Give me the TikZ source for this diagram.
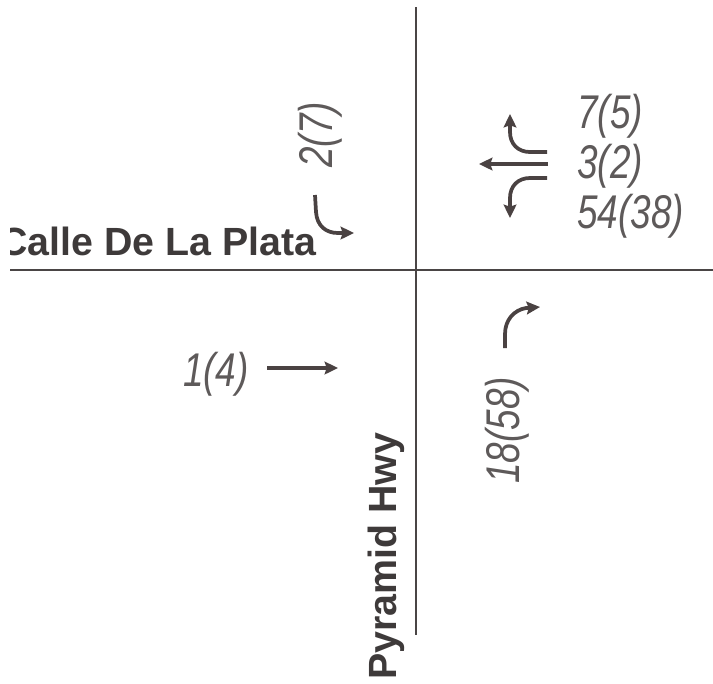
\documentclass[tikz,border=0pt]{standalone}
\usepackage{fontspec}
\setmainfont{Liberation Sans}
\newfontfamily\streetfont[Scale=1]{Liberation Sans}
\newfontfamily\volfont[FakeStretch=0.78]{Liberation Sans}
\usetikzlibrary{arrows.meta}
\definecolor{roadc}{HTML}{4A4545}
\definecolor{arrc}{HTML}{4A4242}
\definecolor{volc}{HTML}{5E5A5A}
\definecolor{namec}{HTML}{3E3A3A}
\tikzset{
  road/.style={draw=roadc, line width=1.6pt},
  mov/.style={draw=arrc, line width=2.8pt, -{Stealth[length=10pt,width=9.5pt,inset=1.5pt]}},
  vol/.style={inner sep=0pt, text=volc, font=\volfont\itshape\fontsize{35.5}{35.5}\selectfont},
  street/.style={inner sep=0pt, text=namec, font=\streetfont\bfseries\fontsize{29.5}{29.5}\selectfont}
}
\begin{document}
\begin{tikzpicture}[x=0.75pt,y=-0.75pt]
\useasboundingbox (0,0) rectangle (713,683);
% roads
\coordinate (vN) at (416,7);
\coordinate (vS) at (416,635);
\coordinate (hW) at (10,270);
\coordinate (hE) at (713,270);
\draw[road] (vN) -- (vS);
\draw[road] (hW) -- (hE);
% street names
\begin{scope}
\clip (10,0) rectangle (713,683);
\node[street, anchor=base west] (calle) at (-1,255) {Calle De La Plata};
\end{scope}
\node[street, anchor=base west, rotate=90] (pyr) at (396,680) {Pyramid Hwy};
% volumes
\node[vol, anchor=base west] (v75) at (577,128) {7(5)};
\node[vol, anchor=base west] (v32) at (577,178) {3(2)};
\node[vol, anchor=base west] (v5438) at (577,228) {54(38)};
\node[vol, anchor=base east] (v14) at (249,386) {1(4)};
\node[vol, anchor=base west, rotate=90] (v27) at (332,168) {2(7)};
\node[vol, anchor=base west, rotate=90] (v1858) at (519,484) {18(58)};
% westbound movements
\coordinate (wrS) at (547,152);
\coordinate (wrE) at (510,114);
\coordinate (wtS) at (548,164);
\coordinate (wtE) at (479,164);
\coordinate (wlS) at (547,178);
\coordinate (wlE) at (510,218);
\draw[mov] (wrS) -- (530,152) .. controls (518,152) and (510,144) .. (510,132) -- (wrE);
\draw[mov] (wtS) -- (wtE);
\draw[mov] (wlS) -- (530,178) .. controls (518,178) and (510,186) .. (510,198) -- (wlE);
% southbound left
\coordinate (sbS) at (315,195);
\coordinate (sbE) at (354,233);
\draw[mov] (sbS) -- (316,212) .. controls (317,226) and (326,233) .. (338,233) -- (sbE);
% eastbound through
\coordinate (ebS) at (267,368);
\coordinate (ebE) at (338,368);
\draw[mov] (ebS) -- (ebE);
% northbound right
\coordinate (nbS) at (505,348);
\coordinate (nbE) at (540,307);
\draw[mov] (nbS) -- (505,334) .. controls (505,320) and (514,310) .. (526,308) -- (nbE);
\end{tikzpicture}
\end{document}
